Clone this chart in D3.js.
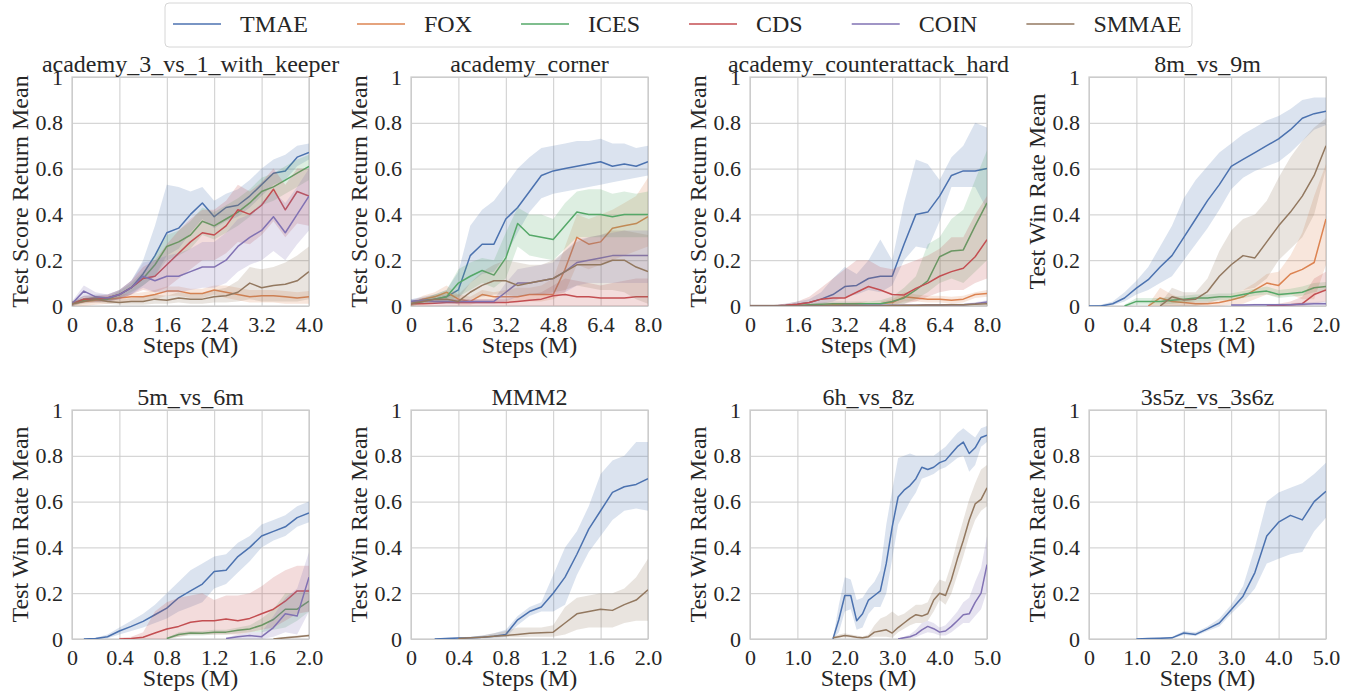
<!DOCTYPE html>
<html>
<head>
<meta charset="utf-8">
<script src="https://cdn.jsdelivr.net/npm/d3@7"></script>
<style>
	body { margin: 0; background: #fff; }
	svg text { font-family: 'Liberation Serif', 'Times New Roman', Times, serif; }
</style>
</head>
<body>
<div class="canvas"></div>
<script>
// methods and colours (seaborn deep)
const methods = ['TMAE', 'FOX', 'ICES', 'CDS', 'COIN', 'SMMAE'];
const palette = ['#4c72b0', '#dd8452', '#55a868', '#c44e52', '#8172b3', '#937860'];

const yTicks = [0, 0.2, 0.4, 0.6, 0.8, 1];
const yTickLabels = ['0', '0.2', '0.4', '0.6', '0.8', '1'];
const ticks4 = [0, 0.8, 1.6, 2.4, 3.2, 4.0];
const ticks4Labels = ['0', '0.8', '1.6', '2.4', '3.2', '4.0'];
const ticks8 = [0, 1.6, 3.2, 4.8, 6.4, 8.0];
const ticks8Labels = ['0', '1.6', '3.2', '4.8', '6.4', '8.0'];
const ticks2 = [0, 0.4, 0.8, 1.2, 1.6, 2.0];
const ticks2Labels = ['0', '0.4', '0.8', '1.2', '1.6', '2.0'];
const ticks5 = [0, 1, 2, 3, 4, 5];
const ticks5Labels = ['0', '1.0', '2.0', '3.0', '4.0', '5.0'];

const scoreLabel = 'Test Score Return Mean';
const winLabel = 'Test Win Rate Mean';

// academy_3_vs_1_with_keeper
const keeperSteps = [0,0.2,0.4,0.6,0.8,1.0,1.2,1.4,1.6,1.8,2.0,2.2,2.4,2.6,2.8,3.0,3.2,3.4,3.6,3.8,4.0];
const keeperTMAE = [0.01,0.03,0.035,0.035,0.05,0.08,0.14,0.22,0.32,0.34,0.40,0.45,0.39,0.43,0.44,0.48,0.53,0.58,0.59,0.65,0.67];
const keeperTMAELo = [0,0.02,0.02,0.02,0.03,0.05,0.09,0.13,0.22,0.25,0.32,0.38,0.34,0.37,0.39,0.43,0.48,0.53,0.55,0.61,0.64];
const keeperTMAEHi = [0.02,0.045,0.05,0.05,0.07,0.11,0.2,0.35,0.53,0.52,0.50,0.52,0.46,0.49,0.51,0.55,0.60,0.64,0.66,0.70,0.71];
const keeperFOX = [0.01,0.02,0.025,0.03,0.035,0.04,0.04,0.05,0.065,0.065,0.055,0.055,0.07,0.06,0.05,0.04,0.045,0.045,0.04,0.035,0.04];
const keeperFOXLo = [0,0,0.005,0.01,0.015,0.02,0.02,0.03,0.045,0.045,0.035,0.035,0.05,0.035,0.025,0.015,0.015,0.015,0.01,0.01,0.01];
const keeperFOXHi = [0.02,0.035,0.04,0.045,0.05,0.055,0.06,0.07,0.085,0.085,0.075,0.075,0.09,0.09,0.08,0.07,0.07,0.07,0.065,0.06,0.065];
const keeperICES = [0.01,0.025,0.03,0.03,0.05,0.08,0.12,0.18,0.26,0.28,0.31,0.37,0.35,0.38,0.41,0.45,0.50,0.52,0.55,0.58,0.61];
const keeperICESLo = [0,0.015,0.02,0.02,0.035,0.06,0.09,0.13,0.2,0.22,0.25,0.31,0.29,0.32,0.35,0.39,0.44,0.46,0.49,0.52,0.55];
const keeperICESHi = [0.02,0.035,0.04,0.04,0.065,0.1,0.15,0.22,0.31,0.33,0.37,0.43,0.41,0.44,0.47,0.51,0.56,0.58,0.61,0.64,0.66];
const keeperCDS = [0.01,0.03,0.03,0.035,0.05,0.08,0.12,0.13,0.18,0.23,0.28,0.32,0.31,0.35,0.42,0.40,0.44,0.51,0.42,0.50,0.48];
const keeperCDSLo = [0,0.015,0.015,0.02,0.03,0.05,0.07,0.06,0.08,0.12,0.16,0.2,0.2,0.23,0.28,0.27,0.31,0.37,0.3,0.36,0.35];
const keeperCDSHi = [0.02,0.045,0.045,0.05,0.07,0.11,0.17,0.2,0.27,0.33,0.38,0.42,0.42,0.46,0.53,0.50,0.54,0.60,0.53,0.60,0.60];
const keeperCOIN = [0.01,0.065,0.04,0.035,0.05,0.08,0.13,0.11,0.13,0.13,0.15,0.17,0.17,0.20,0.26,0.30,0.33,0.39,0.32,0.40,0.48];
const keeperCOINLo = [0,0.04,0.02,0.02,0.03,0.05,0.08,0.06,0.06,0.06,0.07,0.08,0.08,0.10,0.15,0.18,0.2,0.24,0.2,0.27,0.33];
const keeperCOINHi = [0.02,0.09,0.06,0.05,0.07,0.11,0.19,0.2,0.22,0.23,0.25,0.28,0.28,0.32,0.38,0.40,0.45,0.50,0.45,0.52,0.60];
const keeperSMMAE = [0.01,0.02,0.03,0.02,0.015,0.02,0.02,0.03,0.025,0.035,0.03,0.03,0.04,0.045,0.06,0.10,0.08,0.09,0.095,0.11,0.15];
const keeperSMMAELo = [0,0.01,0.015,0.01,0.005,0.005,0.005,0.01,0.01,0.015,0.01,0.01,0.015,0.015,0.02,0.03,0.02,0.02,0.02,0.02,0.03];
const keeperSMMAEHi = [0.02,0.03,0.045,0.035,0.03,0.035,0.04,0.05,0.045,0.06,0.055,0.055,0.07,0.08,0.11,0.17,0.16,0.17,0.19,0.22,0.26];

// academy_corner
const cornerSteps = [0,0.4,0.8,1.2,1.6,2.0,2.4,2.8,3.2,3.6,4.0,4.4,4.8,5.2,5.6,6.0,6.4,6.8,7.2,7.6,8.0];
const cornerTMAE = [0.02,0.025,0.03,0.04,0.07,0.22,0.27,0.27,0.38,0.43,0.50,0.57,0.59,0.60,0.61,0.62,0.63,0.61,0.62,0.61,0.63];
const cornerTMAELo = [0.01,0.015,0.02,0.02,0.03,0.1,0.14,0.15,0.22,0.32,0.41,0.47,0.49,0.50,0.51,0.52,0.53,0.54,0.55,0.56,0.57];
const cornerTMAEHi = [0.03,0.04,0.05,0.07,0.15,0.35,0.42,0.46,0.53,0.60,0.65,0.69,0.70,0.71,0.72,0.72,0.73,0.71,0.71,0.69,0.70];
const cornerFOX = [0.01,0.03,0.04,0.06,0.03,0.02,0.05,0.04,0.04,0.04,0.05,0.05,0.05,0.16,0.30,0.27,0.28,0.34,0.35,0.36,0.39];
const cornerFOXLo = [0,0.015,0.02,0.03,0.005,0.005,0.02,0.02,0.02,0.02,0.02,0.02,0.03,0.06,0.18,0.16,0.18,0.2,0.22,0.24,0.26];
const cornerFOXHi = [0.02,0.045,0.06,0.09,0.05,0.04,0.07,0.06,0.07,0.08,0.08,0.09,0.12,0.26,0.40,0.38,0.40,0.42,0.45,0.48,0.56];
const cornerICES = [0.01,0.02,0.03,0.04,0.10,0.13,0.155,0.135,0.21,0.36,0.31,0.30,0.29,0.35,0.41,0.40,0.40,0.39,0.40,0.40,0.40];
const cornerICESLo = [0,0.01,0.015,0.02,0.04,0.07,0.1,0.08,0.12,0.26,0.22,0.21,0.20,0.25,0.3,0.3,0.3,0.3,0.3,0.3,0.3];
const cornerICESHi = [0.02,0.03,0.05,0.07,0.16,0.19,0.21,0.2,0.32,0.43,0.40,0.40,0.38,0.45,0.50,0.51,0.51,0.49,0.50,0.49,0.50];
const cornerCDS = [0.01,0.01,0.012,0.015,0.015,0.015,0.015,0.015,0.015,0.02,0.025,0.03,0.045,0.05,0.04,0.04,0.035,0.035,0.035,0.04,0.04];
const cornerCDSLo = [0,0,0,0,0,0,0,0,0,0,0,0,0,0,0,0,0,0,0,0,0];
const cornerCDSHi = [0.02,0.02,0.025,0.03,0.03,0.03,0.03,0.03,0.03,0.04,0.05,0.06,0.09,0.12,0.11,0.1,0.09,0.1,0.11,0.12,0.12];
const cornerCOIN = [0.02,0.025,0.02,0.02,0.02,0.02,0.02,0.02,0.06,0.10,0.10,0.11,0.12,0.15,0.19,0.20,0.21,0.22,0.22,0.22,0.22];
const cornerCOINLo = [0.01,0.015,0.01,0.01,0.01,0.01,0.01,0.01,0.02,0.04,0.05,0.05,0.05,0.06,0.09,0.1,0.1,0.1,0.1,0.1,0.1];
const cornerCOINHi = [0.03,0.035,0.03,0.03,0.03,0.03,0.03,0.03,0.1,0.16,0.17,0.18,0.19,0.24,0.29,0.3,0.31,0.32,0.33,0.33,0.33];
const cornerSMMAE = [0.01,0.02,0.03,0.03,0.02,0.06,0.09,0.11,0.11,0.09,0.10,0.11,0.12,0.15,0.18,0.18,0.18,0.20,0.20,0.17,0.15];
const cornerSMMAELo = [0,0.01,0.015,0.015,0.01,0.03,0.04,0.05,0.05,0.04,0.05,0.05,0.06,0.07,0.09,0.08,0.07,0.07,0.06,0.03,0.01];
const cornerSMMAEHi = [0.02,0.035,0.05,0.05,0.05,0.1,0.15,0.18,0.2,0.19,0.18,0.18,0.2,0.24,0.28,0.3,0.31,0.33,0.33,0.32,0.31];

// academy_counterattack_hard
const counterSteps = [0,0.4,0.8,1.2,1.6,2.0,2.4,2.8,3.2,3.6,4.0,4.4,4.8,5.2,5.6,6.0,6.4,6.8,7.2,7.6,8.0];
const counterTMAE = [0,0,0,0.003,0.008,0.015,0.03,0.05,0.085,0.09,0.12,0.13,0.13,0.27,0.40,0.41,0.48,0.57,0.59,0.59,0.60];
const counterTMAELo = [0,0,0,0,0,0.005,0.01,0.02,0.04,0.05,0.07,0.06,0.09,0.2,0.26,0.25,0.37,0.52,0.52,0.52,0.42];
const counterTMAEHi = [0.005,0.005,0.005,0.01,0.02,0.03,0.06,0.12,0.17,0.14,0.2,0.29,0.2,0.45,0.64,0.62,0.55,0.65,0.70,0.80,0.78];
const counterFOX = [0,0,0,0,0,0,0.002,0.005,0.005,0.008,0.01,0.01,0.015,0.04,0.035,0.03,0.03,0.025,0.03,0.05,0.055];
const counterFOXLo = [0,0,0,0,0,0,0,0,0,0,0,0,0,0.02,0.02,0.015,0.015,0.01,0.015,0.035,0.04];
const counterFOXHi = [0.005,0.005,0.005,0.005,0.005,0.005,0.008,0.01,0.012,0.015,0.02,0.02,0.03,0.06,0.05,0.045,0.045,0.04,0.045,0.06,0.07];
const counterICES = [0,0,0,0,0.002,0.005,0.008,0.01,0.01,0.01,0.01,0.01,0.02,0.035,0.07,0.11,0.215,0.24,0.245,0.35,0.45];
const counterICESLo = [0,0,0,0,0,0,0,0,0,0,0,0,0.005,0.01,0.03,0.06,0.1,0.12,0.1,0.15,0.2];
const counterICESHi = [0.005,0.005,0.005,0.005,0.006,0.01,0.015,0.02,0.02,0.02,0.02,0.025,0.04,0.08,0.13,0.27,0.3,0.38,0.42,0.55,0.68];
const counterCDS = [0,0,0,0.003,0.008,0.015,0.03,0.035,0.035,0.06,0.085,0.07,0.05,0.048,0.077,0.10,0.13,0.15,0.165,0.215,0.29];
const counterCDSLo = [0,0,0,0,0,0,0,0.005,0.005,0.01,0.02,0.02,0.01,0.01,0.02,0.04,0.06,0.07,0.07,0.1,0.12];
const counterCDSHi = [0.005,0.005,0.005,0.01,0.02,0.04,0.08,0.12,0.16,0.2,0.2,0.17,0.16,0.18,0.2,0.22,0.25,0.3,0.3,0.4,0.48];
const counterCOIN = [0,0,0,0,0,0,0,0,0.002,0.002,0.003,0.003,0.003,0.003,0.003,0.004,0.004,0.005,0.005,0.01,0.018];
const counterCOINLo = [0,0,0,0,0,0,0,0,0,0,0,0,0,0,0,0,0,0,0,0.005,0.01];
const counterCOINHi = [0.003,0.003,0.003,0.003,0.003,0.003,0.003,0.003,0.005,0.005,0.006,0.006,0.006,0.006,0.006,0.008,0.008,0.01,0.01,0.016,0.025];
const counterSMMAE = [0,0,0,0,0,0,0,0,0,0,0,0,0.002,0.003,0.003,0.004,0.004,0.005,0.005,0.008,0.01];
const counterSMMAELo = [0,0,0,0,0,0,0,0,0,0,0,0,0,0,0,0,0,0,0,0,0];
const counterSMMAEHi = [0.003,0.003,0.003,0.003,0.003,0.003,0.003,0.003,0.003,0.003,0.003,0.003,0.005,0.006,0.006,0.008,0.008,0.01,0.01,0.014,0.016];

// 8m_vs_9m
const m9Steps = [0,0.1,0.2,0.3,0.4,0.5,0.6,0.7,0.8,0.9,1.0,1.1,1.2,1.3,1.4,1.5,1.6,1.7,1.8,1.9,2.0];
const m9TMAE = [0,0,0.01,0.035,0.078,0.115,0.17,0.22,0.30,0.38,0.46,0.53,0.61,0.64,0.67,0.70,0.73,0.77,0.82,0.84,0.85];
const m9TMAELo = [0,0,0.003,0.02,0.05,0.07,0.1,0.13,0.2,0.27,0.34,0.42,0.51,0.56,0.59,0.61,0.63,0.67,0.72,0.77,0.79];
const m9TMAEHi = [0,0.005,0.02,0.06,0.11,0.17,0.26,0.35,0.47,0.55,0.61,0.67,0.71,0.75,0.78,0.81,0.83,0.86,0.90,0.91,0.91];
const m9FOX = [null,null,null,null,null,0,0.035,0.02,0.015,0.01,0.01,0.015,0.026,0.04,0.07,0.10,0.09,0.14,0.16,0.19,0.38];
const m9FOXLo = [null,null,null,null,null,0,0,0,0,0,0,0,0.005,0.01,0.03,0.05,0.04,0.05,0.03,0.03,0.18];
const m9FOXHi = [null,null,null,null,null,0.005,0.08,0.05,0.03,0.02,0.02,0.03,0.05,0.07,0.1,0.14,0.15,0.22,0.32,0.48,0.62];
const m9ICES = [null,null,null,0,0.02,0.02,0.02,0.025,0.03,0.035,0.035,0.04,0.04,0.05,0.06,0.065,0.05,0.055,0.06,0.08,0.085];
const m9ICESLo = [null,null,null,0,0.005,0.005,0.005,0.01,0.015,0.02,0.02,0.025,0.025,0.035,0.045,0.05,0.035,0.04,0.045,0.06,0.065];
const m9ICESHi = [null,null,null,0.005,0.035,0.035,0.035,0.04,0.045,0.05,0.05,0.055,0.055,0.065,0.075,0.085,0.07,0.075,0.085,0.1,0.105];
const m9CDS = [null,null,null,null,null,null,null,null,null,null,null,null,null,null,null,0,0.002,0.005,0.01,0.05,0.07];
const m9CDSLo = [null,null,null,null,null,null,null,null,null,null,null,null,null,null,null,0,0,0,0,0.01,0.02];
const m9CDSHi = [null,null,null,null,null,null,null,null,null,null,null,null,null,null,null,0.005,0.01,0.02,0.04,0.12,0.15];
const m9COIN = [null,null,null,null,null,null,null,null,null,null,null,null,0.004,0.004,0.005,0.005,0.005,0.006,0.008,0.01,0.01];
const m9COINLo = [null,null,null,null,null,null,null,null,null,null,null,null,0,0,0,0,0,0,0,0.002,0.002];
const m9COINHi = [null,null,null,null,null,null,null,null,null,null,null,null,0.008,0.008,0.01,0.01,0.01,0.012,0.015,0.018,0.02];
const m9SMMAE = [null,null,null,null,null,null,0,0.04,0.026,0.03,0.063,0.13,0.18,0.22,0.21,0.28,0.35,0.41,0.48,0.57,0.70];
const m9SMMAELo = [null,null,null,null,null,null,0,0,0,0,0.01,0.03,0.05,0.07,0.08,0.12,0.2,0.25,0.3,0.4,0.6];
const m9SMMAEHi = [null,null,null,null,null,null,0.01,0.08,0.06,0.06,0.12,0.24,0.33,0.38,0.40,0.46,0.56,0.65,0.72,0.78,0.82];

// 5m_vs_6m
const m6Steps = [0,0.1,0.2,0.3,0.4,0.5,0.6,0.7,0.8,0.9,1.0,1.1,1.2,1.3,1.4,1.5,1.6,1.7,1.8,1.9,2.0];
const m6TMAE = [null,0,0.002,0.01,0.035,0.055,0.077,0.106,0.135,0.18,0.21,0.24,0.295,0.30,0.36,0.40,0.45,0.47,0.49,0.53,0.55];
const m6TMAELo = [null,0,0,0.003,0.02,0.035,0.05,0.07,0.09,0.12,0.14,0.16,0.22,0.24,0.29,0.34,0.40,0.43,0.45,0.49,0.51];
const m6TMAEHi = [null,0,0.005,0.02,0.05,0.08,0.11,0.15,0.2,0.25,0.30,0.33,0.36,0.37,0.42,0.45,0.50,0.52,0.54,0.58,0.60];
const m6ICES = [null,null,null,null,null,null,null,null,0.002,0.02,0.026,0.025,0.03,0.03,0.038,0.044,0.06,0.085,0.13,0.13,0.165];
const m6ICESLo = [null,null,null,null,null,null,null,null,0,0.01,0.015,0.015,0.02,0.02,0.025,0.03,0.03,0.04,0.05,0.08,0.12];
const m6ICESHi = [null,null,null,null,null,null,null,null,0.005,0.03,0.035,0.035,0.04,0.04,0.05,0.06,0.09,0.13,0.2,0.2,0.22];
const m6CDS = [null,null,null,null,0,0.002,0.008,0.026,0.044,0.055,0.073,0.08,0.08,0.087,0.08,0.09,0.11,0.13,0.165,0.21,0.21];
const m6CDSLo = [null,null,null,null,0,0,0,0,0,0.01,0.02,0.02,0.02,0.02,0.02,0.03,0.04,0.05,0.08,0.11,0.12];
const m6CDSHi = [null,null,null,null,0.005,0.01,0.03,0.12,0.16,0.18,0.19,0.2,0.17,0.19,0.19,0.2,0.23,0.27,0.3,0.32,0.32];
const m6COIN = [null,null,null,null,null,null,null,null,null,null,null,null,null,0.002,0.01,0.015,0.01,0.05,0.11,0.10,0.27];
const m6COINLo = [null,null,null,null,null,null,null,null,null,null,null,null,null,0,0,0,0,0.01,0.03,0.02,0.12];
const m6COINHi = [null,null,null,null,null,null,null,null,null,null,null,null,null,0.005,0.02,0.03,0.03,0.1,0.18,0.22,0.38];
const m6SMMAE = [null,null,null,null,null,null,null,null,null,null,null,null,null,null,null,null,null,0,0.005,0.01,0.015];
const m6SMMAELo = [null,null,null,null,null,null,null,null,null,null,null,null,null,null,null,null,null,0,0,0.005,0.01];
const m6SMMAEHi = [null,null,null,null,null,null,null,null,null,null,null,null,null,null,null,null,null,0.003,0.01,0.015,0.02];

// MMM2
const mmmSteps = [0,0.1,0.2,0.3,0.4,0.5,0.6,0.7,0.8,0.9,1.0,1.1,1.2,1.3,1.4,1.5,1.6,1.7,1.8,1.9,2.0];
const mmmTMAE = [null,null,0,0.002,0.004,0.005,0.008,0.012,0.02,0.084,0.12,0.14,0.2,0.27,0.37,0.48,0.56,0.64,0.665,0.675,0.70];
const mmmTMAELo = [null,null,0,0,0,0,0.003,0.005,0.008,0.06,0.1,0.12,0.12,0.15,0.28,0.38,0.45,0.52,0.56,0.57,0.56];
const mmmTMAEHi = [null,null,0.002,0.005,0.008,0.01,0.015,0.025,0.04,0.1,0.14,0.16,0.28,0.40,0.47,0.58,0.72,0.78,0.80,0.86,0.86];
const mmmSMMAE = [null,null,null,null,0.002,0.005,0.008,0.012,0.015,0.02,0.025,0.027,0.03,0.07,0.11,0.12,0.13,0.125,0.15,0.17,0.215];
const mmmSMMAELo = [null,null,null,null,0,0.002,0.004,0.006,0.008,0.008,0.01,0.01,0.01,0.02,0.04,0.05,0.05,0.05,0.07,0.08,0.08];
const mmmSMMAEHi = [null,null,null,null,0.004,0.008,0.015,0.025,0.035,0.05,0.05,0.05,0.06,0.14,0.18,0.19,0.20,0.20,0.22,0.27,0.35];

// 6h_vs_8z
const hzSteps = [0,0.125,0.25,0.375,0.5,0.625,0.75,0.875,1,1.125,1.25,1.375,1.5,1.625,1.75,1.875,2,2.125,2.25,2.375,2.5,2.625,2.75,2.875,3,3.125,3.25,3.375,3.5,3.625,3.75,3.875,4,4.125,4.25,4.375,4.5,4.625,4.75,4.875,5];
const hzTMAE = [null,null,null,null,null,null,null,null,null,null,null,null,null,null,0,0.085,0.19,0.19,0.08,0.11,0.17,0.19,0.21,0.33,0.49,0.62,0.65,0.67,0.70,0.75,0.74,0.75,0.77,0.78,0.81,0.84,0.86,0.81,0.835,0.88,0.89];
const hzTMAELo = [null,null,null,null,null,null,null,null,null,null,null,null,null,null,0,0.03,0.12,0.13,0.04,0.05,0.11,0.14,0.14,0.2,0.35,0.5,0.55,0.6,0.64,0.7,0.71,0.72,0.74,0.75,0.77,0.79,0.80,0.73,0.76,0.84,0.86];
const hzTMAEHi = [null,null,null,null,null,null,null,null,null,null,null,null,null,null,0,0.15,0.27,0.26,0.17,0.18,0.22,0.25,0.3,0.5,0.65,0.79,0.80,0.81,0.80,0.80,0.80,0.80,0.82,0.84,0.87,0.90,0.92,0.90,0.88,0.92,0.93];
const hzCOIN = [null,null,null,null,null,null,null,null,null,null,null,null,null,null,null,null,null,null,null,null,null,null,null,null,null,0,0.005,0.01,0.02,0.04,0.055,0.045,0.03,0.035,0.055,0.08,0.106,0.11,0.16,0.2,0.325];
const hzCOINLo = [null,null,null,null,null,null,null,null,null,null,null,null,null,null,null,null,null,null,null,null,null,null,null,null,null,0,0,0.003,0.008,0.02,0.03,0.025,0.015,0.015,0.03,0.05,0.07,0.07,0.1,0.13,0.21];
const hzCOINHi = [null,null,null,null,null,null,null,null,null,null,null,null,null,null,null,null,null,null,null,null,null,null,null,null,null,0.002,0.01,0.02,0.04,0.07,0.08,0.07,0.05,0.06,0.09,0.12,0.16,0.18,0.25,0.31,0.45];
const hzSMMAE = [null,null,null,null,null,null,null,null,null,null,null,null,null,null,0.005,0.01,0.015,0.012,0.008,0.005,0.01,0.03,0.035,0.04,0.026,0.05,0.07,0.09,0.106,0.10,0.11,0.17,0.20,0.19,0.26,0.35,0.43,0.52,0.59,0.61,0.66];
const hzSMMAELo = [null,null,null,null,null,null,null,null,null,null,null,null,null,null,0,0.005,0.008,0.005,0.003,0,0.004,0.01,0.01,0.01,0.005,0.03,0.045,0.06,0.07,0.07,0.08,0.12,0.17,0.15,0.2,0.28,0.36,0.45,0.52,0.56,0.58];
const hzSMMAEHi = [null,null,null,null,null,null,null,null,null,null,null,null,null,null,0.01,0.02,0.025,0.02,0.015,0.01,0.02,0.06,0.09,0.1,0.12,0.1,0.11,0.13,0.15,0.15,0.16,0.22,0.26,0.25,0.33,0.43,0.52,0.61,0.68,0.74,0.76];

// 3s5z_vs_3s6z
const szSteps = [0,0.25,0.5,0.75,1,1.25,1.5,1.75,2,2.25,2.5,2.75,3,3.25,3.5,3.75,4,4.25,4.5,4.75,5];
const szTMAE = [null,null,null,null,0,0.002,0.003,0.005,0.026,0.02,0.044,0.07,0.128,0.187,0.29,0.45,0.51,0.54,0.52,0.60,0.645];
const szTMAELo = [null,null,null,null,0,0,0.001,0.002,0.018,0.013,0.035,0.055,0.11,0.16,0.22,0.33,0.35,0.37,0.38,0.47,0.53];
const szTMAEHi = [null,null,null,null,0.001,0.004,0.006,0.01,0.035,0.03,0.055,0.09,0.15,0.23,0.40,0.60,0.64,0.66,0.68,0.72,0.77];

const panels = [
	{ title: 'academy_3_vs_1_with_keeper', steps: keeperSteps, ticks: ticks4, labels: ticks4Labels, yLabel: scoreLabel,
		series: [['TMAE', keeperTMAE, keeperTMAELo, keeperTMAEHi], ['FOX', keeperFOX, keeperFOXLo, keeperFOXHi],
			['ICES', keeperICES, keeperICESLo, keeperICESHi], ['CDS', keeperCDS, keeperCDSLo, keeperCDSHi],
			['COIN', keeperCOIN, keeperCOINLo, keeperCOINHi], ['SMMAE', keeperSMMAE, keeperSMMAELo, keeperSMMAEHi]] },
	{ title: 'academy_corner', steps: cornerSteps, ticks: ticks8, labels: ticks8Labels, yLabel: scoreLabel,
		series: [['TMAE', cornerTMAE, cornerTMAELo, cornerTMAEHi], ['FOX', cornerFOX, cornerFOXLo, cornerFOXHi],
			['ICES', cornerICES, cornerICESLo, cornerICESHi], ['CDS', cornerCDS, cornerCDSLo, cornerCDSHi],
			['COIN', cornerCOIN, cornerCOINLo, cornerCOINHi], ['SMMAE', cornerSMMAE, cornerSMMAELo, cornerSMMAEHi]] },
	{ title: 'academy_counterattack_hard', steps: counterSteps, ticks: ticks8, labels: ticks8Labels, yLabel: scoreLabel,
		series: [['TMAE', counterTMAE, counterTMAELo, counterTMAEHi], ['FOX', counterFOX, counterFOXLo, counterFOXHi],
			['ICES', counterICES, counterICESLo, counterICESHi], ['CDS', counterCDS, counterCDSLo, counterCDSHi],
			['COIN', counterCOIN, counterCOINLo, counterCOINHi], ['SMMAE', counterSMMAE, counterSMMAELo, counterSMMAEHi]] },
	{ title: '8m_vs_9m', steps: m9Steps, ticks: ticks2, labels: ticks2Labels, yLabel: winLabel,
		series: [['TMAE', m9TMAE, m9TMAELo, m9TMAEHi], ['FOX', m9FOX, m9FOXLo, m9FOXHi],
			['ICES', m9ICES, m9ICESLo, m9ICESHi], ['CDS', m9CDS, m9CDSLo, m9CDSHi],
			['COIN', m9COIN, m9COINLo, m9COINHi], ['SMMAE', m9SMMAE, m9SMMAELo, m9SMMAEHi]] },
	{ title: '5m_vs_6m', steps: m6Steps, ticks: ticks2, labels: ticks2Labels, yLabel: winLabel,
		series: [['TMAE', m6TMAE, m6TMAELo, m6TMAEHi], ['ICES', m6ICES, m6ICESLo, m6ICESHi],
			['CDS', m6CDS, m6CDSLo, m6CDSHi], ['COIN', m6COIN, m6COINLo, m6COINHi],
			['SMMAE', m6SMMAE, m6SMMAELo, m6SMMAEHi]] },
	{ title: 'MMM2', steps: mmmSteps, ticks: ticks2, labels: ticks2Labels, yLabel: winLabel,
		series: [['TMAE', mmmTMAE, mmmTMAELo, mmmTMAEHi], ['SMMAE', mmmSMMAE, mmmSMMAELo, mmmSMMAEHi]] },
	{ title: '6h_vs_8z', steps: hzSteps, ticks: ticks5, labels: ticks5Labels, yLabel: winLabel,
		series: [['TMAE', hzTMAE, hzTMAELo, hzTMAEHi], ['COIN', hzCOIN, hzCOINLo, hzCOINHi],
			['SMMAE', hzSMMAE, hzSMMAELo, hzSMMAEHi]] },
	{ title: '3s5z_vs_3s6z', steps: szSteps, ticks: ticks5, labels: ticks5Labels, yLabel: winLabel,
		series: [['TMAE', szTMAE, szTMAELo, szTMAEHi]] }
];

const serif = "'Liberation Serif', 'Times New Roman', Times, serif";

// svg
const svg = d3.select('.canvas').append('svg')
	.attr('width', 1354).attr('height', 696)
	.attr('font-family', serif);

const colour = d3.scaleOrdinal().domain(methods).range(palette);
const ink = '#262626';
const gridColour = '#cccccc';

// raspored panela
const plotW = 237, plotH = 229;
const lefts = [72, 411, 750, 1089];
const tops = [77, 410];

const defs = svg.append('defs');

panels.forEach((p, k) => {
	const g = svg.append('g')
		.attr('transform', `translate(${lefts[k % 4]}, ${tops[Math.floor(k / 4)]})`);

	const x = d3.scaleLinear().domain([0, p.ticks[p.ticks.length - 1]]).range([0, plotW]);
	const y = d3.scaleLinear().domain([0, 1]).range([plotH, 0]);

	const xAxis = d3.axisBottom(x).tickValues(p.ticks)
		.tickFormat((d, i) => p.labels[i]).tickSize(-plotH).tickPadding(10);
	const yAxis = d3.axisLeft(y).tickValues(yTicks)
		.tickFormat((d, i) => yTickLabels[i]).tickSize(-plotW).tickPadding(9);

	const xg = g.append('g').attr('transform', `translate(0, ${plotH})`).call(xAxis);
	const yg = g.append('g').call(yAxis);
	[xg, yg].forEach(a => {
		a.attr('font-family', serif).attr('font-size', 22);
		a.select('.domain').remove();
		a.selectAll('line').attr('stroke', gridColour).attr('stroke-width', 1);
		a.selectAll('text').attr('fill', ink);
	});

	g.append('rect')
		.attr('width', plotW).attr('height', plotH)
		.attr('fill', 'none').attr('stroke', gridColour).attr('stroke-width', 1.25);

	defs.append('clipPath').attr('id', `clip${k}`)
		.append('rect').attr('width', plotW).attr('height', plotH);

	const line = d3.line().defined(d => d.m != null)
		.x(d => x(d.s)).y(d => y(d.m));
	const area = d3.area().defined(d => d.lo != null)
		.x(d => x(d.s)).y0(d => y(d.lo)).y1(d => y(d.hi));

	const plot = g.append('g').attr('clip-path', `url(#clip${k})`);
	p.series.forEach(([name, mean, lo, hi]) => {
		const pts = p.steps.map((s, i) => ({ s, m: mean[i], lo: lo[i], hi: hi[i] }));
		plot.append('path').datum(pts)
			.attr('d', line)
			.attr('fill', 'none')
			.attr('stroke', colour(name))
			.attr('stroke-width', 1.5)
			.attr('stroke-linejoin', 'round');
		plot.append('path').datum(pts)
			.attr('d', area)
			.attr('fill', colour(name))
			.attr('fill-opacity', 0.2);
	});

	g.append('text')
		.attr('x', plotW / 2).attr('y', -5)
		.attr('text-anchor', 'middle').attr('font-size', 24).attr('fill', ink)
		.text(p.title);

	g.append('text')
		.attr('x', plotW / 2).attr('y', plotH + 47)
		.attr('text-anchor', 'middle').attr('font-size', 24).attr('fill', ink)
		.text('Steps (M)');

	g.append('text')
		.attr('transform', `translate(-44, ${plotH / 2}) rotate(-90)`)
		.attr('text-anchor', 'middle').attr('font-size', 24).attr('fill', ink)
		.text(p.yLabel);
});

// legenda
const legend = svg.append('g');
legend.append('rect')
	.attr('x', 165).attr('y', 3).attr('width', 1027).attr('height', 44).attr('rx', 4)
	.attr('fill', 'white').attr('stroke', '#d6d6d6');

let lx = 173;
methods.forEach(m => {
	legend.append('line')
		.attr('x1', lx).attr('x2', lx + 48).attr('y1', 24).attr('y2', 24)
		.attr('stroke', colour(m)).attr('stroke-width', 1.5);
	const t = legend.append('text')
		.attr('x', lx + 67).attr('y', 32)
		.attr('font-size', 24).attr('fill', ink)
		.text(m);
	lx += 67 + t.node().getComputedTextLength() + 49;
});
</script>
</body>
</html>
